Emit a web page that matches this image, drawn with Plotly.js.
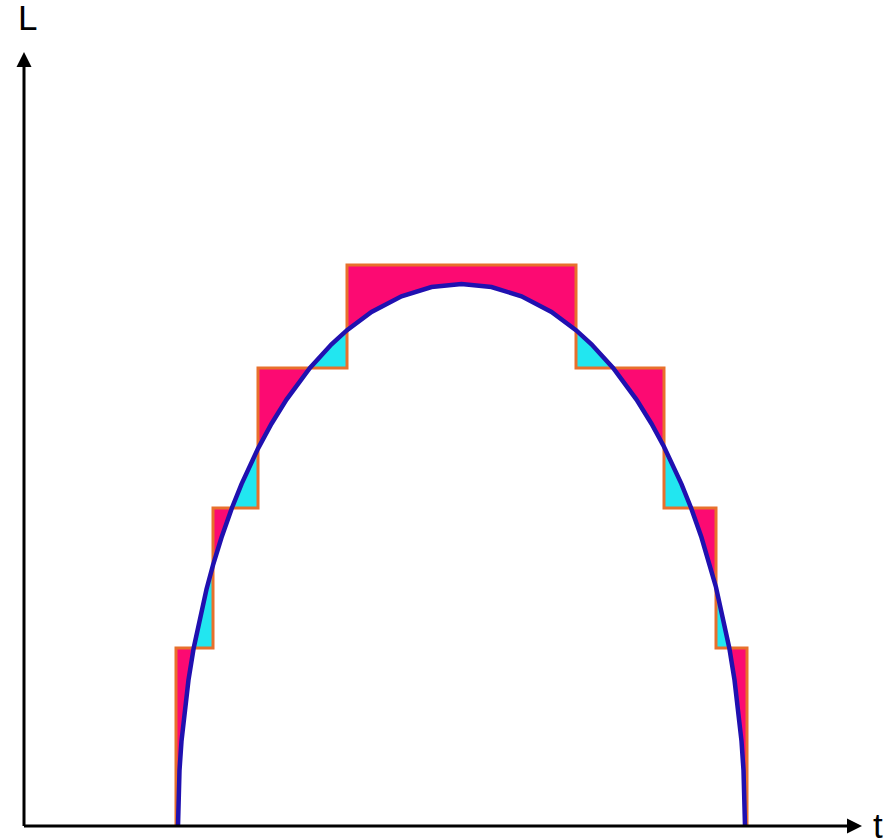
<!DOCTYPE html>
<html>
<head>
<meta charset="utf-8">
<script src="https://cdn.plot.ly/plotly-3.0.1.min.js"></script>
<style>
  html, body { margin: 0; padding: 0; background: #ffffff; }
  #chart { width: 885px; height: 839px; }
</style>
</head>
<body>
<div id="chart"></div>
<script>
// Step approximation: interval edges along t and the level held on each interval
const stepEdges  = [152, 189, 234, 323, 552, 640, 692, 723];
const stepLevels = [178, 318, 458, 561, 458, 318, 178];

// Smooth curve L(t), sampled along t (includes the step edges and the level crossings)
const curveT = [154, 155.5, 157.5, 160.5, 164.5, 169.7, 175.5, 182.5, 189, 197.5,
                207.9, 217.5, 234, 247.5, 262.5, 285.9, 307.5, 323, 347.5, 377.5,
                407.5, 437.5, 467.5, 497.5, 527.5, 552, 567.5, 589.1, 612.5, 627.5,
                640, 657.5, 667.1, 677.5, 692, 699.5, 705.3, 710.5, 714.5, 717.5,
                719.5, 721];
const curveL = [0, 55.7, 84.9, 115.4, 146.1, 178, 207, 236.8, 260.9, 288.5,
                318, 341.9, 377.4, 402.3, 426.4, 458, 481.7, 495.8, 514, 529.7,
                539, 542, 539, 529.7, 514, 495.8, 481.7, 458, 426.4, 402.3,
                379.3, 341.9, 318, 288.5, 238.8, 207, 178, 146.1, 115.4, 84.9,
                55.7, 0];

// Axis labels
const axisLabelT = 't';
const axisLabelL = 'L';

// Colours
const colStepAbove  = '#fc0a72';   // step above the curve
const colCurveAbove = '#22e6f0';   // curve above the step
const colStepLine   = '#e8702c';
const colCurveLine  = '#2010b0';

// Lower envelope min(step, curve), taken at the curve samples of each interval
const minT = [], minL = [];
for (let i = 0; i < stepLevels.length; i++) {
  const a = stepEdges[i], b = stepEdges[i + 1], h = stepLevels[i];
  for (let k = 0; k < curveT.length; k++) {
    if (curveT[k] >= a && curveT[k] <= b) {
      minT.push(curveT[k]);
      minL.push(Math.min(curveL[k], h));
    }
  }
}

const stepFillX = stepEdges.slice();
const stepFillY = stepLevels.concat([0]);
const stepLineX = [stepEdges[0]].concat(stepEdges);
const stepLineY = [0].concat(stepLevels, [0]);

const traces = [
  { // area under the step function
    x: stepFillX, y: stepFillY, type: 'scatter', mode: 'lines',
    line: { shape: 'hv', width: 0, color: colStepAbove },
    fill: 'tozeroy', fillcolor: colStepAbove, hoverinfo: 'skip'
  },
  { // area under the curve
    x: curveT, y: curveL, type: 'scatter', mode: 'lines',
    line: { width: 0, color: colCurveAbove },
    fill: 'tozeroy', fillcolor: colCurveAbove, hoverinfo: 'skip'
  },
  { // area under both
    x: minT, y: minL, type: 'scatter', mode: 'lines',
    line: { width: 0, color: '#ffffff' },
    fill: 'tozeroy', fillcolor: '#ffffff', hoverinfo: 'skip'
  },
  { // step outline
    x: stepLineX, y: stepLineY, type: 'scatter', mode: 'lines',
    line: { shape: 'hv', width: 3, color: colStepLine }, hoverinfo: 'skip'
  },
  { // curve
    x: curveT, y: curveL, type: 'scatter', mode: 'lines',
    line: { width: 4.5, color: colCurveLine }, hoverinfo: 'skip'
  }
];

const labelFont = { family: 'Liberation Sans, Arial, sans-serif', size: 35, color: '#000000' };

const layout = {
  width: 885, height: 839,
  margin: { l: 0, r: 0, t: 0, b: 0 },
  paper_bgcolor: '#ffffff', plot_bgcolor: '#ffffff',
  showlegend: false,
  xaxis: { range: [-24, 861], visible: false, fixedrange: true },
  yaxis: { range: [-13, 826], visible: false, fixedrange: true },
  annotations: [
    { // t axis with arrow
      x: 838, y: 0, ax: -1.5, ay: 0, xref: 'x', yref: 'y', axref: 'x', ayref: 'y',
      text: '', showarrow: true, arrowhead: 2, arrowsize: 1, arrowwidth: 3,
      arrowcolor: '#000000', standoff: 0, startstandoff: 0
    },
    { // L axis with arrow
      x: 0, y: 774, ax: 0, ay: -1.5, xref: 'x', yref: 'y', axref: 'x', ayref: 'y',
      text: '', showarrow: true, arrowhead: 2, arrowsize: 1, arrowwidth: 3,
      arrowcolor: '#000000', standoff: 0, startstandoff: 0
    },
    {
      x: 3, y: 809, xref: 'x', yref: 'y', xanchor: 'center', yanchor: 'middle',
      text: axisLabelL, showarrow: false, font: labelFont
    },
    {
      x: 847, y: 0.5, xref: 'x', yref: 'y', xanchor: 'left', yanchor: 'middle',
      text: axisLabelT, showarrow: false, font: labelFont
    }
  ]
};

Plotly.newPlot('chart', traces, layout, { staticPlot: true, displayModeBar: false });
</script>
</body>
</html>
